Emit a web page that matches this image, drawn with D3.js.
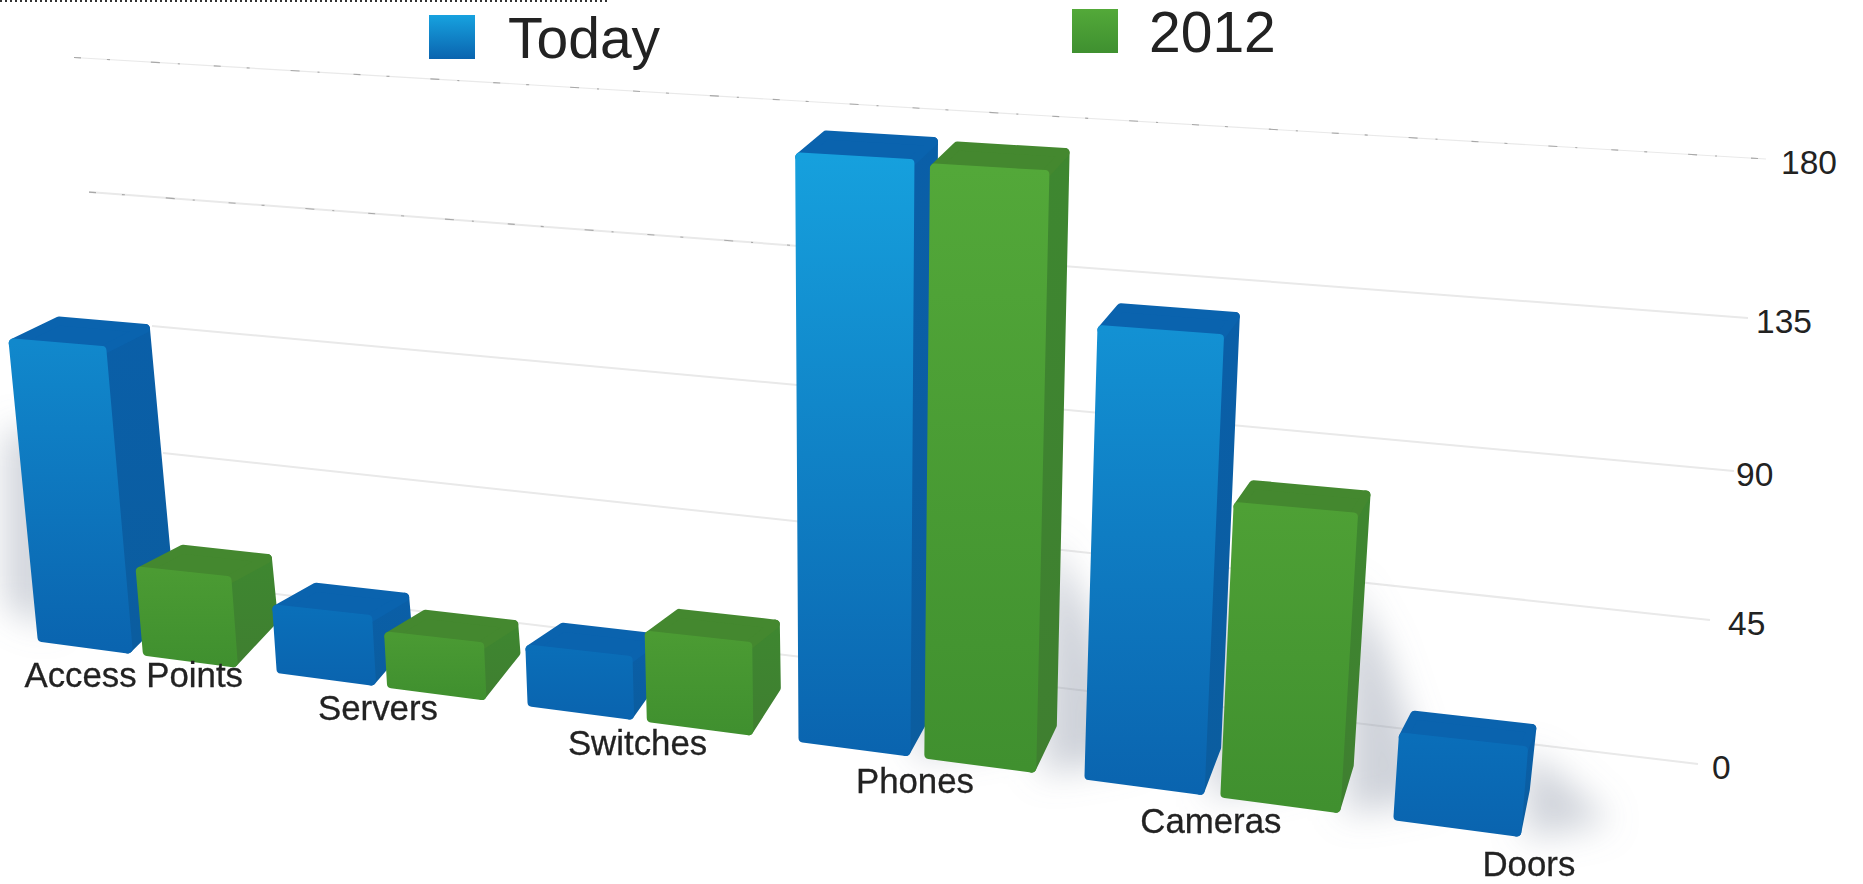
<!DOCTYPE html>
<html><head><meta charset="utf-8">
<script src="https://cdn.jsdelivr.net/npm/d3@7/dist/d3.min.js"></script>
<style>html,body{margin:0;padding:0;background:#fff}svg{display:block}text{font-family:"Liberation Sans",Arial,sans-serif;fill:#222}</style>
</head><body><svg id="c" width="1863" height="884"></svg>
<script>
const categories=["Access Points","Servers","Switches","Phones","Cameras","Doors"];
const today=[90,6,2,172,123,5];
const y2012=[14,1,11,171,71,null];
const ticks=[0,45,90,135,180];
const seriesNames=["Today","2012"];

const W=1863,H=884;
const svg=d3.select("#c");
const defs=svg.append("defs");
defs.append("filter").attr("id","blur").attr("x","-60%").attr("y","-60%").attr("width","220%").attr("height","220%")
  .append("feGaussianBlur").attr("stdDeviation",17);

// Perspective scales: slot position along the category axis -> page x, and so on
const xFloor=d3.scaleLinear().domain([0,1,2,3,4,5,6]).range([42,281,532,803,1089,1398,1728]);
const yFloor=d3.scaleLinear().domain([42,1398]).range([637.6,816.4]);
const h0=d3.scaleLinear().domain([42,1398]).range([38,63]);
const k=d3.scaleLinear().domain([42,1398]).range([2.85,3.25]);
const lean=d3.scaleLinear().domain([850,1850]).range([0,0.121]);
const depthX=d3.scaleLinear().domain([0,1500]).range([46,9]);
const depthTop=22, depthBottom=43;
const seriesOffset=d3.scaleOrdinal().domain([0,1]).range([0,0.44]);
const barSlot=0.36;

// Wall gridlines
const wallEndX=d3.scaleLinear().domain(ticks).range([1698,1710,1734,1748,1766]);
const wallEndY=d3.scaleLinear().domain(ticks).range([764,620,471,318,159]);
const wallStartX=d3.scaleLinear().domain(ticks).range([270,163,152,89,74]);
const wallSlope=d3.scaleLinear().domain(ticks).range([0.1195,0.108,0.0917,0.0759,0.06]);
const wallY=(v,x)=>wallEndY(v)-wallSlope(v)*(wallEndX(v)-x);
const labelGap=d3.scaleOrdinal().domain(ticks).range([14,18,2,8,15]);
const speckleEndX=d3.scaleOrdinal().domain(ticks).range([0,0,0,790,1766]);

const faceTop={0:d3.scaleLinear().domain([0,180]).range(["#0a6db8","#17a2df"]),
               1:d3.scaleLinear().domain([0,180]).range(["#4a9a33","#53a939"])};
const faceBottom={0:"#0a64af",1:"#40902f"};
const sideTop={0:"#0a5fa8",1:"#3e8730"},sideBottom={0:"#0b5d9f",1:"#3f7f30"};
const capColor={0:"#0a63ae",1:"#44882f"};

function corner(u,v){
  const x=xFloor(u), h=h0(x)+k(x)*v;
  return [x+lean(x)*h, yFloor(x)-h];
}
function floor(u){const x=xFloor(u);return [x,yFloor(x)];}
const poly=d3.line();

// gridlines
const grid=svg.append("g");
ticks.forEach(t=>{
  const a=[wallStartX(t),wallY(t,wallStartX(t))], b=[wallEndX(t),wallEndY(t)];
  grid.append("path").attr("d",poly([a,b])).attr("fill","none").attr("stroke","#e9e9e9").attr("stroke-width",t===180?1.2:2);
  if(speckleEndX(t)>0){
    const e=[speckleEndX(t),wallY(t,speckleEndX(t))];
    grid.append("path").attr("d",poly([a,e])).attr("fill","none").attr("stroke","#a8a8a8").attr("stroke-width",1.1)
      .attr("stroke-dasharray","7 26 3 41 9 18 2 34");
  }
  svg.append("text").attr("x",wallEndX(t)+labelGap(t)).attr("y",wallEndY(t)+15)
    .attr("font-size",33.5).text(t);
});

const bars=[];
categories.forEach((c,i)=>{
  [today,y2012].forEach((arr,s)=>{ if(arr[i]!=null) bars.push({i,s,v:arr[i]}); });
});

// soft shadows
const shadows=svg.append("g").attr("filter","url(#blur)");
bars.forEach(b=>{
  if(b.v<60 && b.i!==5) return;
  const uL=b.i+seriesOffset(b.s), uR=uL+barSlot;
  const bl=floor(uL), br=floor(uR);
  const dx=depthX(br[0]);
  const up=Math.min(h0(br[0])+k(br[0])*b.v,230);
  const pts=b.i===0
    ?[[bl[0]-36,bl[1]-up*0.9],[bl[0]+10,bl[1]-up*0.9],[bl[0]+10,bl[1]-10],[bl[0]-36,bl[1]-30]]
    :[[br[0]+dx-4,br[1]-up],[br[0]+dx+34,br[1]-up*0.7],[br[0]+dx+85,br[1]-10],[br[0]+10,br[1]+6]];
  shadows.append("path").attr("d",poly(pts)+"Z").attr("fill","#8d93a6").attr("opacity",0.42);
});

// bars, left to right so nearer series overlaps
const barG=svg.append("g");
bars.forEach((b,n)=>{
  const uL=b.i+seriesOffset(b.s), uR=uL+barSlot;
  const fl=floor(uL), fr=floor(uR), tl=corner(uL,b.v), tr=corner(uR,b.v);
  const dTL=depthX(tl[0]), dTR=depthX(tr[0]), dBR=depthX(fr[0]);
  const gid="f"+n, sid="s"+n;
  const mk=(id,c1,c2,y1,y2)=>{
    const g=defs.append("linearGradient").attr("id",id).attr("gradientUnits","userSpaceOnUse")
      .attr("x1",0).attr("x2",0).attr("y1",y1).attr("y2",y2);
    g.append("stop").attr("offset",0).attr("stop-color",c1);
    g.append("stop").attr("offset",1).attr("stop-color",c2);
  };
  mk(gid,faceTop[b.s](b.v),faceBottom[b.s],tl[1],fr[1]);
  mk(sid,sideTop[b.s],sideBottom[b.s],tr[1]-depthTop,fr[1]);
  const g=barG.append("g").attr("stroke-linejoin","round").attr("stroke-width",9);
  const face=(pts,fill)=>g.append("path").attr("d",poly(pts)+"Z").attr("fill",fill).attr("stroke",fill);
  face([tr,[tr[0]+dTR,tr[1]-depthTop],[fr[0]+dBR,fr[1]-depthBottom],fr],`url(#${sid})`);
  face([tl,[tl[0]+dTL,tl[1]-depthTop],[tr[0]+dTR,tr[1]-depthTop],tr],capColor[b.s]);
  face([tl,tr,fr,fl],`url(#${gid})`);
});

// category labels
categories.forEach((c,i)=>{
  const [x,y]=floor(i+0.43);
  svg.append("text").attr("x",x-11).attr("y",y+35+0.004*x).attr("text-anchor","middle").attr("font-size",34.8)
    .attr("stroke","#222").attr("stroke-width",0.3).text(c);
});

// legend
const legendX=d3.scaleOrdinal().domain(seriesNames).range([429,1072]);
const legendY=d3.scaleOrdinal().domain(seriesNames).range([15,9]);
const legendTextX=d3.scaleOrdinal().domain(seriesNames).range([508,1149]);
const legendBase=d3.scaleOrdinal().domain(seriesNames).range([58,52]);
seriesNames.forEach((n,s)=>{
  const id="lg"+s;
  const g=defs.append("linearGradient").attr("id",id).attr("x1",0).attr("x2",0).attr("y1",0).attr("y2",1);
  g.append("stop").attr("offset",0).attr("stop-color",faceTop[s](180));
  g.append("stop").attr("offset",1).attr("stop-color",s?"#3f9030":"#0a64af");
  svg.append("rect").attr("x",legendX(n)).attr("y",legendY(n)).attr("width",46).attr("height",44).attr("fill",`url(#${id})`);
  svg.append("text").attr("x",legendTextX(n)).attr("y",legendBase(n)).attr("font-size",57).text(n);
});

// dotted scan edge
svg.append("line").attr("x1",0).attr("x2",607).attr("y1",1).attr("y2",1)
  .attr("stroke","#333").attr("stroke-width",2).attr("stroke-dasharray","2 3");
</script></body></html>
